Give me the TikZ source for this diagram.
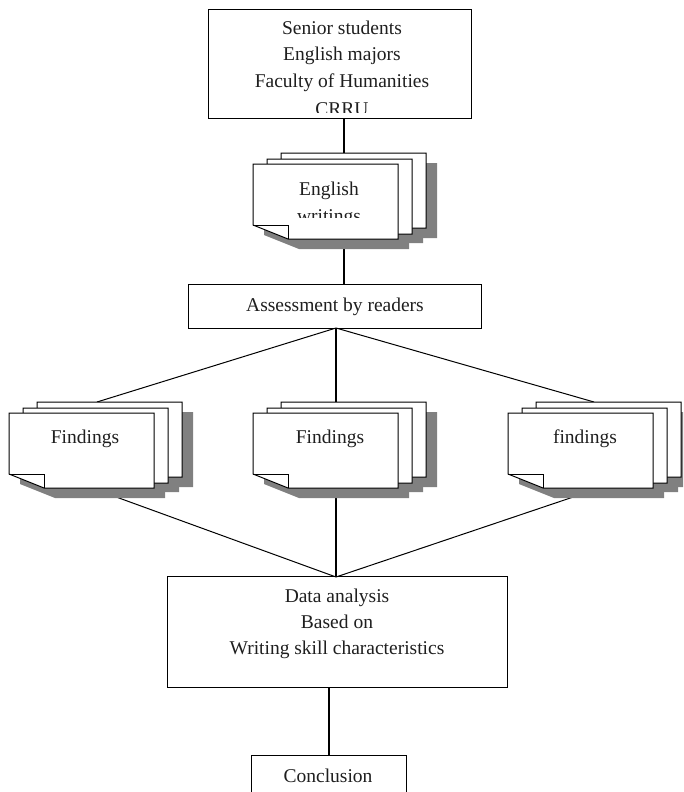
\documentclass[tikz,border=0pt]{standalone}
\usepackage{fontspec}
\setmainfont{Liberation Serif}
\tikzset{
  box/.style={draw=black, line width=1pt, fill=white, inner sep=0pt},
  lbl/.style={anchor=base, inner sep=0pt, text=black!88, font=\fontsize{19.5}{26}\selectfont},
  trunk/.style={line width=1.7pt},
  branch/.style={line width=1pt},
  sheet/.style={draw=black, line width=1pt, fill=white},
  shade/.style={fill=black!50},
}
% folded sheet outline with top-left corner at (#1,#2)
\newcommand\sheetpath[2]{(#1,#2) -- ++(145,0) -- ++(0,75) -- ++(-110,0) -- ++(-35,-14) -- cycle}
% #1 = front sheet top-left x, #2 = its y
\newcommand\docstack[2]{%
  \begin{scope}[shift={(#1,#2)}]
    \fill[shade] \sheetpath{39}{-1};
    \fill[shade] \sheetpath{25}{4};
    \fill[shade] \sheetpath{11}{10};
    \draw[sheet] \sheetpath{28}{-11};
    \draw[sheet] \sheetpath{14}{-5};
    \draw[sheet] \sheetpath{0}{0};
    \draw[line width=1pt] (0,61) -- (35,61) -- (35,75);
  \end{scope}}
\begin{document}
\begin{tikzpicture}[x=1pt,y=-1pt]
  \useasboundingbox (0,0) rectangle (683,792);
  \clip (0,0) rectangle (683,792);

  % boxes (named)
  \node[box, minimum width=263pt, minimum height=108pt] (top) at (339.5,64) {};
  \node[box, minimum width=293pt, minimum height=44pt] (assess) at (334.5,306) {};
  \node[box, minimum width=340pt, minimum height=111pt] (data) at (337,631.5) {};
  \node[box, minimum width=155pt, minimum height=50pt] (concl) at (328.5,780) {};

  % connection points
  \coordinate (topout) at (344,118);
  \coordinate (ewin) at (344,153);
  \coordinate (ewout) at (344,240);
  \coordinate (asin) at (344,284);
  \coordinate (asout) at (336,328);
  \coordinate (f1in) at (97,402);
  \coordinate (f2in) at (336,402);
  \coordinate (f3in) at (594,402);
  \coordinate (f1out) at (97,490);
  \coordinate (f2out) at (336,490);
  \coordinate (f3out) at (594,490);
  \coordinate (dain) at (336,577);
  \coordinate (daout) at (329,687);
  \coordinate (coin) at (329,755);

  % connectors
  \draw[trunk] (topout) -- (ewin);
  \draw[trunk] (ewout) -- (asin);
  \draw[branch] (asout) -- (f1in);
  \draw[trunk] (asout) -- (f2in);
  \draw[branch] (asout) -- (f3in);
  \draw[branch] (f1out) -- (dain);
  \draw[trunk] (f2out) -- (dain);
  \draw[branch] (f3out) -- (dain);
  \draw[trunk] (daout) -- (coin);

  % document stacks
  \docstack{253}{164}
  \docstack{9}{413}
  \docstack{253}{413}
  \docstack{508}{413}

  % texts
  \begin{scope}
    \clip (208,10) rectangle (471,112);
    \node[lbl] (t1) at (342,35) {Senior students};
    \node[lbl] (t2) at (342,61) {English majors};
    \node[lbl] (t3) at (342,87) {Faculty of Humanities};
    \node[lbl] (t4) at (342,115) {CRRU};
  \end{scope}
  \begin{scope}
    \clip (253,164) rectangle (397,217);
    \node[lbl] (ew1) at (329,195) {English};
    \node[lbl] (ew2) at (329,222) {writings};
  \end{scope}
  \node[lbl] (as) at (335,311) {Assessment by readers};
  \node[lbl] (fd1) at (85,443) {Findings};
  \node[lbl] (fd2) at (330,443) {Findings};
  \node[lbl] (fd3) at (585,443) {findings};
  \node[lbl] (d1) at (337,602) {Data analysis};
  \node[lbl] (d2) at (337,628) {Based on};
  \node[lbl] (d3) at (337,654) {Writing skill characteristics};
  \node[lbl] (c1) at (328,782) {Conclusion};
\end{tikzpicture}
\end{document}
